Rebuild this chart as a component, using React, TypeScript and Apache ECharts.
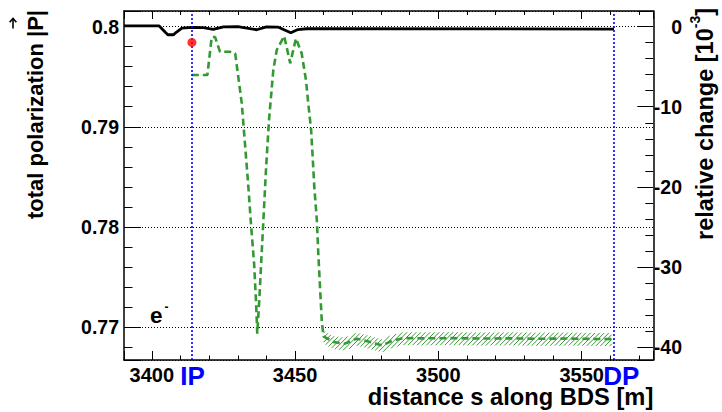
import React, { useEffect, useRef } from "react";
import * as echarts from "echarts";

// ---------- data ----------
const xMin = 3390.3;
const xMax = 3575;
const pMin = 0.76674;
const pMax = 0.80155;
const pRef = 0.8;
const xStep = 50;
const pStep = 0.01;
const relStep = 10;
const relTicks = [0, -10, -20, -30, -40];
const relTickLabels = ["0", "-10", "-20", "-30", "-40"];

const ipS = 3414.0;
const dpS = 3561.3;
const markerS = [3414.0];
const markerP = [0.79842];

const blackS = [3390.3, 3402.5, 3404.8, 3405.6, 3407.6, 3408.4, 3410.5, 3414.0, 3418.0, 3421.4, 3425.0, 3430.0, 3436.6, 3440.0, 3444.0, 3448.5, 3451.0, 3454.0, 3458.7, 3561.3];
const blackP = [0.80007, 0.80007, 0.7994, 0.79918, 0.79918, 0.7994, 0.79985, 0.79992, 0.7999, 0.79972, 0.79996, 0.8, 0.79968, 0.79996, 0.79995, 0.79938, 0.7997, 0.79978, 0.79978, 0.79975];

const greenS = [3413.96, 3419.4, 3420.9, 3422.1, 3423.8, 3427.3, 3429.1, 3431.4, 3432.6, 3433.7, 3434.6, 3435.7, 3436.4, 3436.8, 3437.5, 3438.7, 3439.9, 3440.9, 3442.4, 3443.6, 3446.2, 3448.3, 3450.3, 3452.3, 3453.8, 3454.6, 3455.6, 3456.2, 3456.7, 3457.6, 3458.1, 3458.7, 3459.3, 3459.9, 3463.4, 3467.4, 3471.5, 3476.2, 3480.3, 3483.7, 3487.8, 3495, 3505, 3515, 3525, 3535, 3545, 3555, 3560.5];
const greenP = [0.79516, 0.79516, 0.79895, 0.79895, 0.79748, 0.79748, 0.79732, 0.79233, 0.788, 0.78401, 0.78035, 0.77636, 0.77237, 0.76937, 0.7727, 0.77936, 0.786, 0.79067, 0.79566, 0.79766, 0.79905, 0.79633, 0.79882, 0.79732, 0.79466, 0.79233, 0.78967, 0.78667, 0.78401, 0.78068, 0.77736, 0.77402, 0.7707, 0.7691, 0.76853, 0.76837, 0.76887, 0.76853, 0.7682, 0.76863, 0.76893, 0.7689, 0.76892, 0.76888, 0.7689, 0.76886, 0.76888, 0.76884, 0.76882];

const bandS = [3459.9, 3463.4, 3467.4, 3471.5, 3476.2, 3480.3, 3483.7, 3487.8, 3495, 3505, 3515, 3525, 3535, 3545, 3555, 3560.5];
const bandHigh = [0.76965, 0.76912, 0.76897, 0.76945, 0.76912, 0.7688, 0.76922, 0.76952, 0.7695, 0.76952, 0.76948, 0.7695, 0.76946, 0.76948, 0.76944, 0.76942];
const bandLow = [0.7684, 0.76783, 0.76767, 0.76817, 0.76783, 0.7675, 0.76793, 0.76823, 0.7682, 0.76822, 0.76818, 0.7682, 0.76816, 0.76818, 0.76814, 0.76812];

const xTitle = "distance s along BDS [m]";
const yTitle = "total polarization |P|";
const y2Title = "relative change [10";
const y2Sup = "-3";
const ipLabel = "IP";
const dpLabel = "DP";

// ---------- style ----------
const FONT = "'Liberation Sans', Arial, Helvetica, sans-serif";
const GREEN = "#339933";
const BLUE = "#0000ff";
const Y_LABEL_FS = 19.5;

function measure(text: string, size: number, weight = "bold") {
  const c = document.createElement("canvas").getContext("2d");
  if (!c) return text.length * size * 0.55;
  c.font = `${weight} ${size}px 'Liberation Sans', Arial, sans-serif`;
  return c.measureText(text).width;
}

const isMultiple = (v: number, step: number) => Math.abs(v / step - Math.round(v / step)) < 1e-6;

function hatchRender(_params: any, api: any) {
  const lo = bandS.map((s, i) => api.coord([s, bandLow[i]]));
  const hi = bandS.map((s, i) => api.coord([s, bandHigh[i]]));
  const yAt = (pts: number[][], x: number) => {
    if (x <= pts[0][0]) return pts[0][1];
    for (let i = 1; i < pts.length; i++) {
      if (x <= pts[i][0]) {
        const t = (x - pts[i - 1][0]) / (pts[i][0] - pts[i - 1][0]);
        return pts[i - 1][1] + t * (pts[i][1] - pts[i - 1][1]);
      }
    }
    return pts[pts.length - 1][1];
  };
  const xa = lo[0][0];
  const xb = lo[lo.length - 1][0];
  const spacing = 4.6;
  const kStart = xa + yAt(hi, xa);
  const kEnd = xb + yAt(lo, xb);
  const children: any[] = [];
  for (let k = kStart + spacing / 2; k < kEnd; k += spacing) {
    let x1 = k - yAt(lo, xa);
    for (let j = 0; j < 5; j++) x1 = k - yAt(lo, x1);
    let x2 = k - yAt(hi, xa);
    for (let j = 0; j < 5; j++) x2 = k - yAt(hi, x2);
    x1 = Math.max(x1, xa);
    x2 = Math.min(x2, xb);
    if (x2 - x1 < 0.5) continue;
    children.push({
      type: "line",
      shape: { x1, y1: k - x1, x2, y2: k - x2 },
      style: { stroke: GREEN, lineWidth: 1 },
    });
  }
  return { type: "group", children };
}

export default function App() {
  const ref = useRef<HTMLDivElement>(null);

  useEffect(() => {
    document.body.style.margin = "0";
    if (!ref.current) return;
    const chart = echarts.init(ref.current, undefined, { renderer: "svg" });

    const relMin = (pMin / pRef - 1) * 1000;
    const relMax = (pMax / pRef - 1) * 1000;

    const labelStyle = { fontFamily: FONT, fontWeight: "bold" as const, fontSize: 20, color: "#000" };
    const axisLine = { show: true, onZero: false, lineStyle: { color: "#000", width: 1.5 } };

    chart.setOption({
      animation: false,
      grid: { left: 124, top: 11, right: 68.7, bottom: 52, containLabel: false, outerBoundsMode: "none" },
      xAxis: [
        {
          type: "value",
          position: "bottom",
          min: xMin,
          max: xMax,
          minInterval: xStep,
          maxInterval: xStep,
          splitNumber: 4,
          axisLine,
          axisTick: { show: true, inside: true, length: 9, lineStyle: { color: "#000", width: 1 } },
          minorTick: { show: true, splitNumber: 5, length: 4.5, lineStyle: { color: "#000", width: 1 } },
          axisLabel: {
            ...labelStyle,
            margin: 5,
            formatter: (v: number) => (isMultiple(v, xStep) ? String(Math.round(v)) : ""),
          },
          splitLine: { show: false },
        },
        {
          type: "value",
          position: "top",
          min: xMin,
          max: xMax,
          minInterval: xStep,
          maxInterval: xStep,
          splitNumber: 4,
          axisLine,
          axisTick: { show: true, inside: true, length: 8, lineStyle: { color: "#000", width: 1 } },
          minorTick: { show: true, splitNumber: 5, length: 4, lineStyle: { color: "#000", width: 1 } },
          axisLabel: { show: false },
          splitLine: { show: false },
        },
      ],
      yAxis: [
        {
          type: "value",
          position: "left",
          min: pMin,
          max: pMax,
          minInterval: pStep,
          maxInterval: pStep,
          splitNumber: 3,
          axisLine,
          axisTick: { show: true, inside: true, length: 17, lineStyle: { color: "#000", width: 1 } },
          minorTick: { show: true, splitNumber: 5, length: 8.5, lineStyle: { color: "#000", width: 1 } },
          axisLabel: {
            ...labelStyle,
            fontSize: Y_LABEL_FS,
            margin: 5,
            formatter: (v: number) => (isMultiple(v, pStep) ? String(+Number(v).toFixed(2)) : ""),
          },
          splitLine: { show: true, lineStyle: { color: "#000", width: 1, type: [1, 2] } },
        },
        {
          type: "value",
          position: "right",
          min: relMin,
          max: relMax,
          minInterval: relStep,
          maxInterval: relStep,
          splitNumber: 4,
          axisLine,
          axisTick: { show: true, inside: true, length: 16, lineStyle: { color: "#000", width: 1 } },
          minorTick: { show: true, splitNumber: 5, length: 8, lineStyle: { color: "#000", width: 1 } },
          axisLabel: { show: false },
          splitLine: { show: false },
        },
      ],
      series: [
        {
          type: "custom",
          coordinateSystem: "cartesian2d",
          xAxisIndex: 0,
          yAxisIndex: 0,
          renderItem: hatchRender,
          data: [[bandS[0], bandLow[0]]],
          silent: true,
          clip: false,
          z: 1,
        },
        {
          type: "line",
          xAxisIndex: 0,
          yAxisIndex: 0,
          data: [],
          silent: true,
          z: 2,
          markLine: {
            silent: true,
            symbol: ["none", "none"],
            label: { show: false },
            lineStyle: { color: BLUE, type: [2, 2], width: 1.6 },
            data: [{ xAxis: ipS }, { xAxis: dpS }],
          },
        },
        {
          type: "line",
          xAxisIndex: 0,
          yAxisIndex: 0,
          data: greenS.map((s, i) => [s, greenP[i]]),
          showSymbol: false,
          silent: true,
          lineStyle: { color: GREEN, width: 2.6, type: [7, 4] },
          z: 3,
        },
        {
          type: "line",
          xAxisIndex: 0,
          yAxisIndex: 0,
          data: blackS.map((s, i) => [s, blackP[i]]),
          showSymbol: false,
          silent: true,
          lineStyle: { color: "#000", width: 2.8 },
          z: 4,
        },
        {
          type: "scatter",
          xAxisIndex: 0,
          yAxisIndex: 0,
          data: markerS.map((s, i) => [s, markerP[i]]),
          symbol: "circle",
          symbolSize: 9,
          itemStyle: { color: "#ff0000" },
          silent: true,
          z: 5,
        },
      ],
    });

    const ipPx = chart.convertToPixel({ xAxisIndex: 0 }, ipS) as number;
    const dpPx = chart.convertToPixel({ xAxisIndex: 0 }, dpS) as number;
    const relPx = relTicks.map((v) => chart.convertToPixel({ yAxisIndex: 1 }, v) as number);

    const yFs = 22;
    const y2Fs = 23.5;
    const supFs = 14;
    const wBr = measure("]", y2Fs);
    const wSup = measure(y2Sup, supFs);

    const textStyle = (text: string, size: number, extra: any = {}) => ({
      text,
      fontSize: size,
      fontWeight: "bold",
      fontFamily: FONT,
      fill: "#000",
      ...extra,
    });

    const relLabels = relTicks.map((_, i) => ({
      type: "text",
      x: 682,
      y: relPx[i],
      silent: true,
      z: 100,
      style: textStyle(relTickLabels[i], Y_LABEL_FS, { align: "right", verticalAlign: "middle" }),
    }));

    chart.setOption({
      graphic: [
        ...relLabels,
        {
          type: "text",
          x: 653.3,
          y: 397,
          silent: true,
          style: textStyle(xTitle, 23.7, { align: "right", verticalAlign: "middle" }),
        },
        {
          type: "group",
          x: 35,
          y: 10,
          rotation: Math.PI / 2,
          silent: true,
          children: [
            { type: "text", x: 0, y: 0, style: textStyle(yTitle, yFs, { align: "right", verticalAlign: "middle" }) },
          ],
        },
        // vector arrow over P
        {
          type: "line",
          silent: true,
          shape: { x1: 13, y1: 28.5, x2: 13, y2: 18.8 },
          style: { stroke: "#000", lineWidth: 1.6 },
        },
        {
          type: "polyline",
          silent: true,
          shape: { points: [[9.6, 22.2], [13, 18.4], [16.4, 22.2]] },
          style: { stroke: "#000", lineWidth: 1.6, fill: null },
        },
        {
          type: "group",
          x: 705,
          y: 8,
          rotation: Math.PI / 2,
          silent: true,
          children: [
            { type: "text", x: 0, y: 0, style: textStyle("]", y2Fs, { align: "right", verticalAlign: "middle" }) },
            { type: "text", x: -wBr, y: -10, style: textStyle(y2Sup, supFs, { align: "right", verticalAlign: "middle" }) },
            { type: "text", x: -wBr - wSup, y: 0, style: textStyle(y2Title, y2Fs, { align: "right", verticalAlign: "middle" }) },
          ],
        },
        {
          type: "text",
          x: ipPx - 11.7,
          y: 375.5,
          silent: true,
          style: textStyle(ipLabel, 26, { fill: BLUE, align: "left", verticalAlign: "middle" }),
        },
        {
          type: "text",
          x: dpPx - 10.7,
          y: 375.5,
          silent: true,
          style: textStyle(dpLabel, 26, { fill: BLUE, align: "left", verticalAlign: "middle" }),
        },
        {
          type: "text",
          x: 150,
          y: 315,
          silent: true,
          style: textStyle("e", 22.5, { align: "left", verticalAlign: "middle" }),
        },
        {
          type: "text",
          x: 164.5,
          y: 306.5,
          silent: true,
          style: textStyle("-", 12, { align: "left", verticalAlign: "middle" }),
        },
      ],
    });

    return () => chart.dispose();
  }, []);

  return (
    <div
      ref={ref}
      style={{ position: "absolute", left: 0, top: 0, width: 722, height: 412 }}
    />
  );
}
